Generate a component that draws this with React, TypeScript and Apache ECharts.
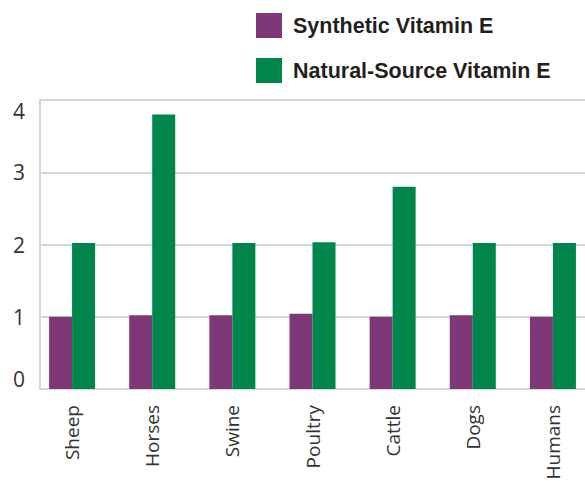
import React, { useEffect, useRef } from "react";
import * as echarts from "echarts";

const categories = ["Sheep", "Horses", "Swine", "Poultry", "Cattle", "Dogs", "Humans"];
const syntheticValues = [1.0, 1.02, 1.02, 1.04, 1.0, 1.02, 1.0];
const naturalValues = [2.02, 3.8, 2.02, 2.03, 2.8, 2.02, 2.02];
const seriesNames = ["Synthetic Vitamin E", "Natural-Source Vitamin E"];
const yTicks = { min: 0, max: 4, interval: 1 };

const PURPLE = "#7e3877";
const GREEN = "#00864a";
const GRID = "#d6d6d6";

export default function App() {
  const ref = useRef<HTMLDivElement>(null);
  useEffect(() => {
    if (!ref.current) return;
    const chart = echarts.init(ref.current, null, { renderer: "svg" });
    chart.setOption({
      animation: false,
      color: [PURPLE, GREEN],
      legend: {
        data: seriesNames,
        orient: "vertical",
        left: 256,
        top: 13,
        padding: 0,
        itemWidth: 26,
        itemHeight: 25,
        itemGap: 20,
        icon: "rect",
        textStyle: {
          fontFamily: "Liberation Sans",
          fontWeight: "bold",
          fontSize: 21.5,
          lineHeight: 25,
          color: "#231f20",
          padding: [0, 0, 0, 6],
        },
      },
      grid: [
        { left: 40, right: 0, top: 100, bottom: 92, outerBoundsMode: "none", containLabel: false },
        { left: 32, width: 561, top: 100, bottom: 92, outerBoundsMode: "none", containLabel: false },
      ],
      xAxis: [
        { gridIndex: 0, type: "value", show: false, min: 0, max: 1 },
        {
          gridIndex: 1,
          type: "category",
          data: categories,
          axisLine: { show: false },
          axisTick: { show: false },
          axisLabel: {
            rotate: 90,
            margin: 16,
            fontFamily: "Open Sans",
            fontSize: 19,
            color: "#333",
          },
        },
      ],
      yAxis: [
        {
          gridIndex: 0,
          type: "value",
          min: yTicks.min,
          max: yTicks.max,
          interval: yTicks.interval,
          axisLine: { show: true, lineStyle: { color: GRID, width: 2 } },
          axisTick: { show: false },
          splitLine: { show: true, lineStyle: { color: GRID, width: 2 } },
          axisLabel: {
            margin: 15,
            fontFamily: "Open Sans",
            fontSize: 21,
            color: "#333",
            verticalAlignMinLabel: "bottom",
            verticalAlignMaxLabel: "top",
          },
        },
        {
          gridIndex: 1,
          type: "value",
          min: yTicks.min,
          max: yTicks.max,
          interval: yTicks.interval,
          show: false,
          splitLine: { show: false },
        },
      ],
      series: [
        {
          name: seriesNames[0],
          type: "bar",
          xAxisIndex: 1,
          yAxisIndex: 1,
          data: syntheticValues,
          barWidth: 23,
          barGap: "0%",
          itemStyle: { color: PURPLE },
        },
        {
          name: seriesNames[1],
          type: "bar",
          xAxisIndex: 1,
          yAxisIndex: 1,
          data: naturalValues,
          barWidth: 23,
          barGap: "0%",
          itemStyle: { color: GREEN },
        },
      ],
    });
    return () => chart.dispose();
  }, []);
  return (
    <div
      ref={ref}
      style={{ position: "absolute", left: 0, top: 0, width: 585, height: 481 }}
    />
  );
}
